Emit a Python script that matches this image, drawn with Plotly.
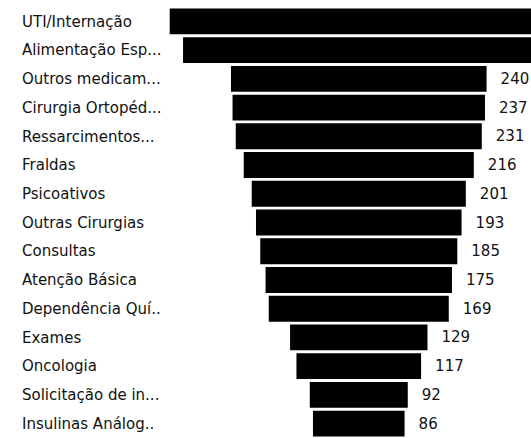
import plotly.graph_objects as go

categories = [
    "UTI/Internação", "Alimentação Esp...", "Outros medicam...", "Cirurgia Ortopéd...",
    "Ressarcimentos...", "Fraldas", "Psicoativos", "Outras Cirurgias", "Consultas",
    "Atenção Básica", "Dependência Quí..", "Exames", "Oncologia",
    "Solicitação de in...", "Insulinas Análog..",
]
values = [355, 330, 240, 237, 231, 216, 201, 193, 185, 175, 169, 129, 117, 92, 86]

font_family = "DejaVu Sans"

fig = go.Figure(
    go.Funnel(
        y=categories,
        x=values,
        marker=dict(color="#000000", line=dict(width=0)),
        connector=dict(visible=False),
        textposition="outside",
        texttemplate="\u00a0\u00a0\u200a%{x}",
        outsidetextfont=dict(family=font_family, size=15, color="#111111"),
        constraintext="none",
        cliponaxis=True,
        hoverinfo="y+x",
    )
)

fig.update_layout(
    width=531,
    height=438,
    margin=dict(l=19, r=0, t=7, b=0),
    paper_bgcolor="white",
    plot_bgcolor="white",
    funnelgap=0.1,
    showlegend=False,
    font=dict(family=font_family, size=15, color="#111111"),
)
fig.update_xaxes(range=[-319.0, 161.7], visible=False, showgrid=False, zeroline=False)
fig.update_yaxes(
    autorange="reversed",
    ticklabelposition="inside",
    ticks="",
    showgrid=False,
    showline=False,
    zeroline=False,
    tickfont=dict(family=font_family, size=15, color="#111111"),
)

fig.write_html(
    "out.html",
    config={"displayModeBar": False},
    post_script="document.body.style.margin='0';document.body.style.padding='0';",
)
